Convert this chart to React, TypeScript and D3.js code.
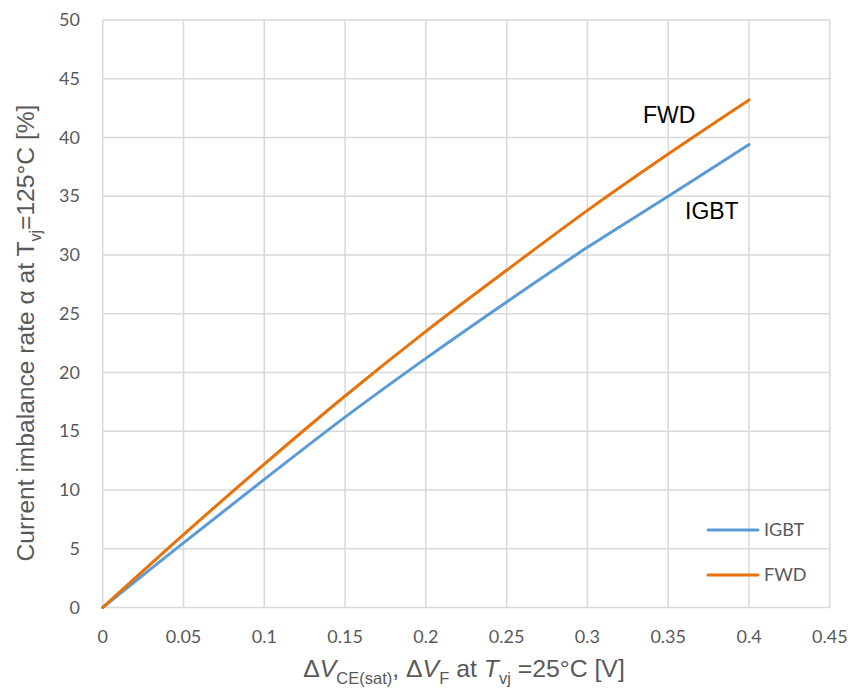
import React from "react";
import * as d3 from "d3";

const deltaV = [0, 0.05, 0.1, 0.15, 0.2, 0.25, 0.3, 0.35, 0.4];
const igbt = [0, 5.5, 10.9, 16.2, 21.2, 26.0, 30.65, 35.0, 39.4];
const fwd = [0, 6.2, 12.2, 18.0, 23.5, 28.7, 33.8, 38.6, 43.2];
const xTicks = [0, 0.05, 0.1, 0.15, 0.2, 0.25, 0.3, 0.35, 0.4, 0.45];
const yTicks = [0, 5, 10, 15, 20, 25, 30, 35, 40, 45, 50];
const seriesNames = ["IGBT", "FWD"];
const seriesColors = ["#5b9bd5", "#e8710a"];

const W = 850, H = 688;
const left = 102.7, right = 829.8, top = 20, bottom = 607.5;

export default function App() {
  const x = d3.scaleLinear().domain([0, 0.45]).range([left, right]);
  const y = d3.scaleLinear().domain([0, 50]).range([bottom, top]);
  const line = d3
    .line<number>()
    .x((_, i) => x(deltaV[i]))
    .y((d) => y(d))
    .curve(d3.curveCatmullRom.alpha(0.5));
  const series = [igbt, fwd];
  const tickFont = "Lato, 'Open Sans', sans-serif";
  const titleFont = "'Liberation Sans', Arial, sans-serif";
  return (
    <svg width={W} height={H} style={{ position: "absolute", left: 0, top: 0, background: "#fff" }}>
      <rect x={0} y={0} width={W} height={H} fill="#fff" />
      {yTicks.map((t) => (
        <line key={"gy" + t} x1={left} x2={right} y1={y(t)} y2={y(t)} stroke="#d9d9d9" strokeWidth={1.5} />
      ))}
      {xTicks.map((t) => (
        <line key={"gx" + t} x1={x(t)} x2={x(t)} y1={top} y2={bottom} stroke="#d9d9d9" strokeWidth={1.5} />
      ))}
      {yTicks.map((t) => (
        <text key={"ty" + t} x={80} y={y(t) + 6} textAnchor="end" fontFamily={tickFont} fontSize={18} fill="#595959">
          {t}
        </text>
      ))}
      {xTicks.map((t) => (
        <text key={"tx" + t} x={x(t)} y={643} textAnchor="middle" fontFamily={tickFont} fontSize={18} fill="#595959">
          {t}
        </text>
      ))}
      {series.map((s, i) => (
        <path key={"s" + i} d={line(s) || ""} fill="none" stroke={seriesColors[i]} strokeWidth={3} strokeLinecap="round" />
      ))}
      <text x={643} y={123} fontFamily={titleFont} fontSize={23} fill="#000">FWD</text>
      <text x={685} y={219} fontFamily={titleFont} fontSize={23} fill="#000">IGBT</text>
      {seriesNames.map((n, i) => (
        <g key={"lg" + n}>
          <line x1={708} x2={758} y1={530 + i * 45} y2={530 + i * 45} stroke={seriesColors[i]} strokeWidth={3} strokeLinecap="round" />
          <text x={764} y={536 + i * 45} fontFamily={tickFont} fontSize={18} fill="#595959">{n}</text>
        </g>
      ))}
      <text
        transform={`translate(34, 333) rotate(-90)`}
        textAnchor="middle"
        fontFamily={titleFont}
        fontSize={24.6}
        fill="#595959"
      >
        Current imbalance rate α at T<tspan fontSize={16} dy={7}>vj</tspan><tspan dy={-7}>=125°C [%]</tspan>
      </text>
      <text x={464} y={677} textAnchor="middle" fontFamily={titleFont} fontSize={24.8} fill="#595959">
        Δ<tspan fontStyle="italic">V</tspan><tspan fontSize={16.5} dy={7}>CE(sat)</tspan><tspan dy={-7}>, Δ</tspan>
        <tspan fontStyle="italic">V</tspan><tspan fontSize={16.5} dy={7}>F</tspan><tspan dy={-7}> at </tspan>
        <tspan fontStyle="italic">T</tspan><tspan fontSize={16.5} dy={7}>vj</tspan><tspan dy={-7}> =25°C [V]</tspan>
      </text>
    </svg>
  );
}
